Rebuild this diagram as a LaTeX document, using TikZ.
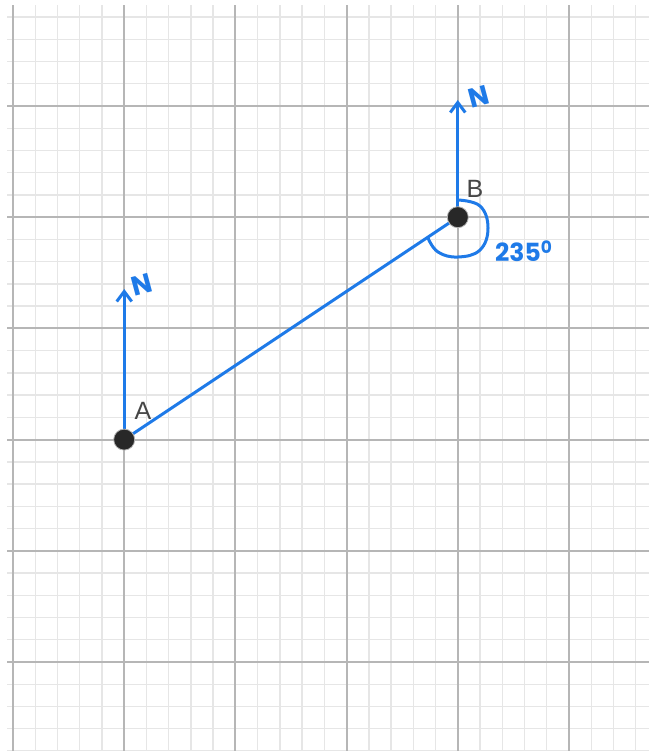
\documentclass[tikz,border=0pt]{standalone}
\usepackage{fontspec}
\setmainfont{Liberation Sans}
\newfontfamily\handfont{Poppins}
\usetikzlibrary{arrows.meta}
\definecolor{penblue}{RGB}{30,122,232}
\definecolor{majorgrid}{RGB}{182,182,182}
\definecolor{minorgrid}{RGB}{230,230,230}
\definecolor{dotfill}{RGB}{40,40,40}
\definecolor{labelgray}{RGB}{70,70,70}
\begin{document}
\begin{tikzpicture}[x=1pt,y=-1pt,
  minorline/.style={minorgrid,line width=1.4pt},
  majorline/.style={majorgrid,line width=2pt},
  pen/.style={penblue,line width=3pt,line cap=round,line join=round},
  northarrow/.style={pen,-{Straight Barb[length=10pt,width=15pt,line width=3pt]}},
  pointdot/.style={circle,fill=dotfill,draw=gray!60,line width=0.8pt,minimum size=21pt,inner sep=0pt},
  ptlabel/.style={text=labelgray,font=\fontsize{25}{28}\selectfont,inner sep=0pt},
  handlabel/.style={text=penblue,font=\handfont\bfseries\fontsize{27}{30}\selectfont,inner sep=0pt}]
\useasboundingbox (0,0) rectangle (649,751);
\fill[white] (0,0) rectangle (649,751);
\begin{scope}
\clip (7,6) rectangle (649,751);
\foreach \k in {0,...,28} {
  \draw[minorline] ({13+22.24*\k},0) -- ({13+22.24*\k},751);
}
\foreach \k in {-4,...,29} {
  \draw[minorline] (0,{106+22.24*\k}) -- (649,{106+22.24*\k});
}
\foreach \k in {0,...,5} {
  \draw[majorline] ({13+111.2*\k},0) -- ({13+111.2*\k},751);
}
\foreach \k in {-1,...,6} {
  \draw[majorline] (0,{106+111.2*\k}) -- (649,{106+111.2*\k});
}
\end{scope}
\coordinate (A) at (124.2,439.6);
\coordinate (B) at (457.8,217.2);
\coordinate (NA) at (124.2,289);
\coordinate (NB) at (457.8,100);
\draw[pen] (A) -- (B);
\draw[northarrow] (A) -- (NA);
\draw[northarrow] (B) -- (NB);
\draw[pen] plot[smooth,tension=0.7] coordinates {(457.8,200) (480,206) (488,228) (480,250) (458,257) (438,252) (428,238)};
\node[pointdot] (dotA) at (A) {};
\node[pointdot] (dotB) at (B) {};
\node[ptlabel] (labA) at (143,411) {A};
\node[ptlabel] (labB) at (475,189) {B};
\node[handlabel,rotate=15] (nA) at (142,285) {N};
\node[handlabel,rotate=15] (nB) at (479,97) {N};
\node[handlabel,anchor=west,font=\handfont\bfseries\fontsize{25}{28}\selectfont] (ang) at (495,251) {235\raisebox{8pt}{\fontsize{17}{18}\selectfont 0}};
\end{tikzpicture}
\end{document}
